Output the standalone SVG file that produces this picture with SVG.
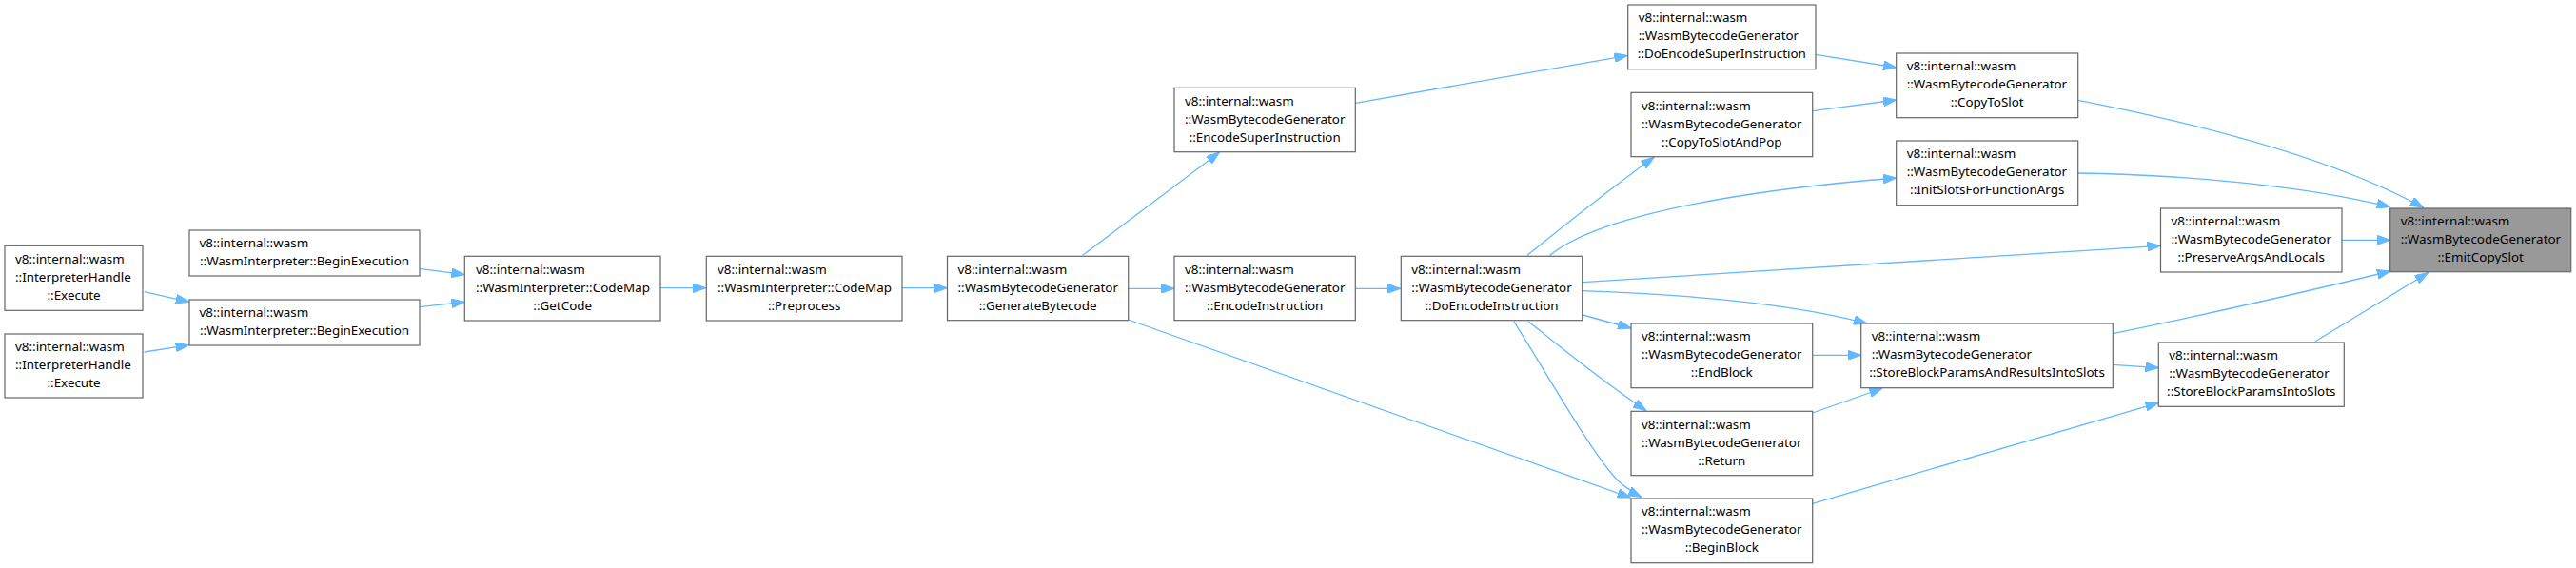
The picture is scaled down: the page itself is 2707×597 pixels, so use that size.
<svg xmlns="http://www.w3.org/2000/svg" width="2707" height="597" viewBox="0 0 2707 597">
<style>
.node rect{fill:#ffffff;stroke:#666666;stroke-width:1.2}
.hl rect{fill:#999999}
text{font-family:"Noto Sans","Liberation Sans",sans-serif;font-size:13.4px;fill:#000000}
.c{text-anchor:middle}
.edge{fill:none;stroke:#63b8ff;stroke-width:1.3;marker-end:url(#arr)}
</style>
<defs>
<marker id="arr" viewBox="0 0 14 10" refX="14" refY="5" markerWidth="14" markerHeight="10" markerUnits="userSpaceOnUse" orient="auto">
<path d="M0,0 L14,5 L0,10 Z" fill="#63b8ff" stroke="#63b8ff"/>
</marker>
</defs>
<rect x="0" y="0" width="2707" height="597" fill="#ffffff"/>
<g id="edges">
<path class="edge" d="M151.7,306.7 L198.7,317.3"/>
<path class="edge" d="M151.7,370 L198.7,362.7"/>
<path class="edge" d="M441,282.3 L488.3,288.7"/>
<path class="edge" d="M441,322.7 L488.3,317.3"/>
<path class="edge" d="M694,302.7 L742,302.7"/>
<path class="edge" d="M948,302.7 L995.5,302.7"/>
<path class="edge" d="M1137.7,268.3 L1281.7,160"/>
<path class="edge" d="M1185.7,303.3 L1234,303.3"/>
<path class="edge" d="M1185.7,336 L1713.5,523"/>
<path class="edge" d="M1424.3,108.3 L1710.5,58.3"/>
<path class="edge" d="M1424.3,303.3 L1472,303.3"/>
<path class="edge" d="M1605,268.3 C1640,240 1690,200 1738.3,165"/>
<path class="edge" d="M1628.5,268.5 C1680,226 1830,200 1993,187"/>
<path class="edge" d="M1662.7,296.7 L2270.5,258.3"/>
<path class="edge" d="M1662.7,305.7 C1760,309 1880,318 1962,340"/>
<path class="edge" d="M1663.3,331 L1714,345"/>
<path class="edge" d="M1606,337.7 C1640,365 1680,398 1730,431.7"/>
<path class="edge" d="M1590.7,337.7 C1630,400 1675,480 1700,505 C1710,514 1718,519 1725,522.5"/>
<path class="edge" d="M1908,57.3 L1993,71"/>
<path class="edge" d="M1904.7,116.7 L1993,105"/>
<path class="edge" d="M2183.7,105.3 C2300,128 2450,165 2546.7,218.3"/>
<path class="edge" d="M2183.7,182 C2300,184 2420,195 2511.5,217.5"/>
<path class="edge" d="M2461,252.3 L2512,252.3"/>
<path class="edge" d="M2220.3,350.7 C2320,330 2430,305 2512,285"/>
<path class="edge" d="M2220.3,383.3 L2268.5,386.7"/>
<path class="edge" d="M2432.7,359 L2551.7,286.5"/>
<path class="edge" d="M1904.7,373.3 L1956,373.3"/>
<path class="edge" d="M1904.7,434 L1978.3,408"/>
<path class="edge" d="M1904.7,529.3 L2268.5,423.3"/>
</g>
<g id="n_exec1" class="node"><rect x="5" y="258.3" width="145" height="68"/><text x="16" y="276.5">v8::internal::wasm</text><text x="16" y="295.5">::InterpreterHandle</text><text class="c" x="77.5" y="314.5">::Execute</text></g>
<g id="n_exec2" class="node"><rect x="5" y="351" width="145" height="67"/><text x="16" y="369.2">v8::internal::wasm</text><text x="16" y="388.2">::InterpreterHandle</text><text class="c" x="77.5" y="407.2">::Execute</text></g>
<g id="n_beginexec1" class="node"><rect x="199" y="242" width="242" height="48"/><text x="209.5" y="260.3">v8::internal::wasm</text><text class="c" x="320" y="279.3">::WasmInterpreter::BeginExecution</text></g>
<g id="n_beginexec2" class="node"><rect x="199" y="315" width="242" height="48"/><text x="209.5" y="333.3">v8::internal::wasm</text><text class="c" x="320" y="352.3">::WasmInterpreter::BeginExecution</text></g>
<g id="n_getcode" class="node"><rect x="488.3" y="269.3" width="205.7" height="67.7"/><text x="500" y="287.5">v8::internal::wasm</text><text x="500" y="306.5">::WasmInterpreter::CodeMap</text><text class="c" x="591.2" y="325.5">::GetCode</text></g>
<g id="n_preprocess" class="node"><rect x="742.3" y="269.3" width="205.7" height="67.7"/><text x="754" y="287.5">v8::internal::wasm</text><text x="754" y="306.5">::WasmInterpreter::CodeMap</text><text class="c" x="845.2" y="325.5">::Preprocess</text></g>
<g id="n_generate" class="node"><rect x="995.5" y="269.3" width="190.2" height="67.4"/><text x="1006.5" y="287.5">v8::internal::wasm</text><text x="1006.5" y="306.5">::WasmBytecodeGenerator</text><text class="c" x="1090.6" y="325.5">::GenerateBytecode</text></g>
<g id="n_encsuper" class="node"><rect x="1234" y="92.3" width="190.3" height="67.4"/><text x="1245" y="110.5">v8::internal::wasm</text><text x="1245" y="129.5">::WasmBytecodeGenerator</text><text class="c" x="1329.2" y="148.5">::EncodeSuperInstruction</text></g>
<g id="n_encinst" class="node"><rect x="1234" y="269.3" width="190.3" height="67.4"/><text x="1245" y="287.5">v8::internal::wasm</text><text x="1245" y="306.5">::WasmBytecodeGenerator</text><text class="c" x="1329.2" y="325.5">::EncodeInstruction</text></g>
<g id="n_doencinst" class="node"><rect x="1472.3" y="269.3" width="190.4" height="67.4"/><text x="1483.3" y="287.5">v8::internal::wasm</text><text x="1483.3" y="306.5">::WasmBytecodeGenerator</text><text class="c" x="1567.5" y="325.5">::DoEncodeInstruction</text></g>
<g id="n_doencsuper" class="node"><rect x="1710.7" y="5" width="197.3" height="67.7"/><text x="1721.7" y="23.2">v8::internal::wasm</text><text x="1721.7" y="42.2">::WasmBytecodeGenerator</text><text class="c" x="1809.3" y="61.2">::DoEncodeSuperInstruction</text></g>
<g id="n_copypop" class="node"><rect x="1714" y="97.3" width="190.7" height="67.4"/><text x="1725" y="115.5">v8::internal::wasm</text><text x="1725" y="134.5">::WasmBytecodeGenerator</text><text class="c" x="1809.3" y="153.5">::CopyToSlotAndPop</text></g>
<g id="n_endblock" class="node"><rect x="1714" y="340" width="190.7" height="67.7"/><text x="1725" y="358.2">v8::internal::wasm</text><text x="1725" y="377.2">::WasmBytecodeGenerator</text><text class="c" x="1809.3" y="396.2">::EndBlock</text></g>
<g id="n_return" class="node"><rect x="1714" y="432.3" width="190.7" height="67.4"/><text x="1725" y="450.5">v8::internal::wasm</text><text x="1725" y="469.5">::WasmBytecodeGenerator</text><text class="c" x="1809.3" y="488.5">::Return</text></g>
<g id="n_beginblock" class="node"><rect x="1714" y="524" width="190.7" height="67.7"/><text x="1725" y="542.2">v8::internal::wasm</text><text x="1725" y="561.2">::WasmBytecodeGenerator</text><text class="c" x="1809.3" y="580.2">::BeginBlock</text></g>
<g id="n_copytoslot" class="node"><rect x="1992.7" y="56" width="191" height="67.7"/><text x="2003.7" y="74.2">v8::internal::wasm</text><text x="2003.7" y="93.2">::WasmBytecodeGenerator</text><text class="c" x="2088.2" y="112.2">::CopyToSlot</text></g>
<g id="n_initslots" class="node"><rect x="1992.7" y="148" width="191" height="67.7"/><text x="2003.7" y="166.2">v8::internal::wasm</text><text x="2003.7" y="185.2">::WasmBytecodeGenerator</text><text class="c" x="2088.2" y="204.2">::InitSlotsForFunctionArgs</text></g>
<g id="n_sbparis" class="node"><rect x="1955.7" y="340" width="264.6" height="67.7"/><text x="1966.7" y="358.2">v8::internal::wasm</text><text x="1966.7" y="377.2">::WasmBytecodeGenerator</text><text class="c" x="2088" y="396.2">::StoreBlockParamsAndResultsIntoSlots</text></g>
<g id="n_preserve" class="node"><rect x="2270.5" y="219" width="190.5" height="67"/><text x="2281.5" y="237.2">v8::internal::wasm</text><text x="2281.5" y="256.2">::WasmBytecodeGenerator</text><text class="c" x="2365.7" y="275.2">::PreserveArgsAndLocals</text></g>
<g id="n_sbpis" class="node"><rect x="2268.3" y="360" width="195" height="67.3"/><text x="2279.3" y="378.2">v8::internal::wasm</text><text x="2279.3" y="397.2">::WasmBytecodeGenerator</text><text class="c" x="2365.8" y="416.2">::StoreBlockParamsIntoSlots</text></g>
<g id="n_emit" class="node hl"><rect x="2511.7" y="219" width="190" height="66.7"/><text x="2522.7" y="237.2">v8::internal::wasm</text><text x="2522.7" y="256.2">::WasmBytecodeGenerator</text><text class="c" x="2606.7" y="275.2">::EmitCopySlot</text></g>
</svg>
